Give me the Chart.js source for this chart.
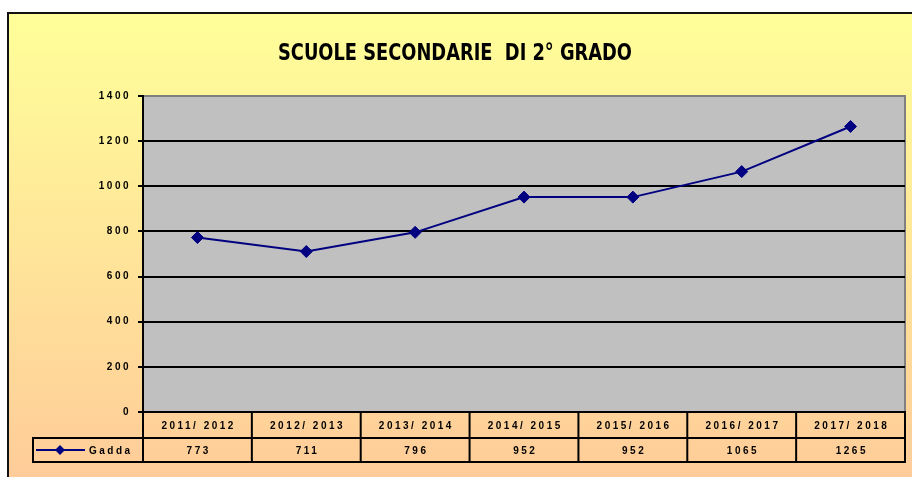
<!DOCTYPE html>
<html>
<head>
<meta charset="utf-8">
<script src="https://cdn.jsdelivr.net/npm/chart.js@4.4.1/dist/chart.umd.min.js"></script>
<style>
html,body{margin:0;padding:0;background:#fff;}
#wrap{width:912px;height:477px;}
canvas{display:block;}
</style>
</head>
<body>
<div id="wrap"><canvas id="c" width="912" height="477"></canvas></div>
<script>
const chartTitle = 'SCUOLE SECONDARIE  DI 2° GRADO';
const categories = ['2011/ 2012', '2012/ 2013', '2013/ 2014', '2014/ 2015', '2015/ 2016', '2016/ 2017', '2017/ 2018'];
const seriesName = 'Gadda';
const values = [773, 711, 796, 952, 952, 1065, 1265];
const yMin = 0;
const yMax = 1400;
const yStep = 200;

const LS = 2.5;
const NAVY = '#000080';
const SMALL_FONT = 'bold 10px "Liberation Sans", Arial, sans-serif';

const framePlugin = {
  id: 'framePlugin',
  beforeDraw(chart) {
    const { ctx, chartArea: a, width, height } = chart;
    ctx.save();
    ctx.letterSpacing = '0px';
    ctx.fillStyle = '#ffffff';
    ctx.fillRect(0, 0, width, height);
    const g = ctx.createLinearGradient(0, 13, 0, height);
    g.addColorStop(0, '#FFFF99');
    g.addColorStop(1, '#FFCC99');
    ctx.fillStyle = g;
    ctx.fillRect(8, 13, width - 8, height - 13);
    ctx.fillStyle = '#111';
    ctx.fillRect(7, 12, width - 7, 2);
    ctx.fillRect(7, 12, 2, height - 12);
    ctx.fillStyle = '#C0C0C0';
    ctx.fillRect(a.left, a.top, a.right - a.left, a.bottom - a.top);
    ctx.fillStyle = '#808080';
    ctx.fillRect(a.right - 1, a.top - 1, 2, a.bottom - a.top + 1);
    ctx.restore();
    ctx.letterSpacing = LS + 'px';
  },
  afterDraw(chart) {
    const { ctx, chartArea: a, scales } = chart;
    const xs = scales.x;
    ctx.save();
    const r1t = a.bottom, r1b = a.bottom + 26, r2b = r1b + 24;
    const legendLeft = 33;
    const bounds = categories.map((_, i) => xs.getPixelForValue(i - 0.5));
    bounds.push(xs.getPixelForValue(categories.length - 0.5));
    ctx.strokeStyle = '#000';
    ctx.lineWidth = 2;
    ctx.beginPath();
    ctx.moveTo(a.left - 1, r1t); ctx.lineTo(a.right + 1, r1t);
    ctx.moveTo(legendLeft - 1, r1b); ctx.lineTo(a.right + 1, r1b);
    ctx.moveTo(legendLeft - 1, r2b); ctx.lineTo(a.right + 1, r2b);
    bounds.forEach(x => { ctx.moveTo(x, r1t); ctx.lineTo(x, r2b + 1); });
    ctx.moveTo(legendLeft, r1b); ctx.lineTo(legendLeft, r2b + 1);
    ctx.stroke();

    ctx.fillStyle = '#000';
    ctx.font = SMALL_FONT;
    ctx.letterSpacing = LS + 'px';
    ctx.textAlign = 'center';
    ctx.textBaseline = 'middle';
    categories.forEach((c, i) => {
      const cx = (bounds[i] + bounds[i + 1]) / 2 + LS / 2;
      ctx.fillText(c, cx, (r1t + r1b) / 2 + 1);
      ctx.fillText(String(values[i]), cx, (r1b + r2b) / 2 + 1);
    });

    // legend key
    const ly = (r1b + r2b) / 2;
    ctx.strokeStyle = NAVY;
    ctx.lineWidth = 2;
    ctx.beginPath();
    ctx.moveTo(36, ly); ctx.lineTo(85, ly);
    ctx.stroke();
    ctx.fillStyle = NAVY;
    ctx.beginPath();
    ctx.moveTo(60, ly - 5); ctx.lineTo(65, ly); ctx.lineTo(60, ly + 5); ctx.lineTo(55, ly);
    ctx.closePath(); ctx.fill();
    ctx.fillStyle = '#000';
    ctx.textAlign = 'left';
    ctx.fillText(seriesName, 89, ly + 1);

    // title
    ctx.letterSpacing = '0px';
    ctx.font = 'bold 23px "Liberation Sans Narrow", "DejaVu Sans Condensed", "Liberation Sans", sans-serif';
    ctx.textAlign = 'center';
    ctx.textBaseline = 'alphabetic';
    const w = ctx.measureText(chartTitle).width;
    const sx = 354 / w;
    ctx.translate(455, 60);
    ctx.scale(sx, 1);
    ctx.fillText(chartTitle, 0, 0);
    ctx.restore();
  }
};

new Chart(document.getElementById('c'), {
  type: 'line',
  data: {
    labels: categories,
    datasets: [{
      label: seriesName,
      data: values,
      borderColor: NAVY,
      backgroundColor: NAVY,
      borderWidth: 2,
      pointStyle: 'rectRot',
      pointRadius: 6,
      pointHoverRadius: 6,
      pointBackgroundColor: NAVY,
      pointBorderColor: NAVY,
      pointBorderWidth: 1,
      tension: 0,
      fill: false
    }]
  },
  options: {
    responsive: false,
    animation: false,
    devicePixelRatio: 1,
    layout: { padding: { left: 8, top: 96, right: 7, bottom: 65 } },
    plugins: {
      legend: { display: false },
      title: { display: false },
      tooltip: { enabled: false }
    },
    scales: {
      x: {
        type: 'category',
        display: false,
        offset: true
      },
      y: {
        min: yMin,
        max: yMax,
        afterFit(scale) { scale.width = 135; },
        ticks: {
          stepSize: yStep,
          color: '#000',
          padding: 7,
          callback: (v) => String(v),
          font: { family: '"Liberation Sans", Arial, sans-serif', size: 10, weight: 'bold' }
        },
        grid: {
          color: (c) => (c.tick && c.tick.value === yMax) ? '#808080' : '#000',
          lineWidth: 2,
          tickColor: '#000',
          tickLength: 5,
          drawTicks: true
        },
        border: { display: true, color: '#000', width: 2 }
      }
    }
  },
  plugins: [framePlugin]
});
</script>
</body>
</html>
